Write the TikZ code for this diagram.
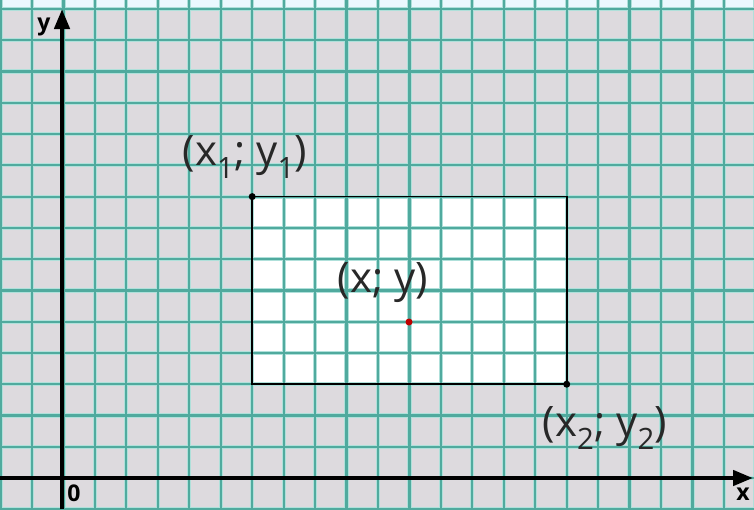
\documentclass[tikz,border=0pt]{standalone}
\usepackage{fontspec}
\setmainfont{Open Sans}
\usetikzlibrary{arrows.meta}
\definecolor{bgc}{RGB}{221,218,222}
\definecolor{gridc}{RGB}{80,170,158}
\definecolor{halo}{RGB}{175,224,218}
\definecolor{labc}{RGB}{40,40,40}
\tikzset{
  gridline/.style={draw=gridc, line width=2.2pt},
  halol/.style={draw=halo, line width=4.2pt},
  axis/.style={draw=black, line width=4.4pt, -{Triangle[length=20pt,width=15pt]}},
  ptdot/.style={circle, fill=black, inner sep=0pt, minimum size=7pt},
  reddot/.style={circle, fill=red!75!black, inner sep=0pt, minimum size=7pt},
  biglab/.style={text=labc, font=\fontsize{42}{44}\selectfont, inner sep=0pt},
  axlab/.style={text=black, font=\fontsize{23}{25}\selectfont\bfseries, inner sep=0pt}
}
\begin{document}
\begin{tikzpicture}[x=1pt,y=-1pt]
\useasboundingbox (0,0) rectangle (754,509);
\fill[bgc] (0,0) rectangle (754,509);
\fill[white!92!cyan] (0,0) rectangle (754,7);
% white rectangle
\coordinate (p1) at (252.2,196.6);
\coordinate (p2) at (566.7,384.2);
\fill[white] (p1) rectangle (p2);
% grid
\foreach \i in {-1,...,23} \draw[halol] ({32+31.45*\i},0) -- ++(0,509);
\foreach \j in {0,...,16} \draw[halol] (0,{9+31.27*\j}) -- ++(754,0);
\foreach \i in {-1,...,23} \draw[gridline] ({32+31.45*\i},0) -- ++(0,509);
\foreach \j in {0,...,16} \draw[gridline] (0,{9+31.27*\j}) -- ++(754,0);
% rectangle border
\draw[black, line width=1.6pt] (p1) rectangle (p2);
% axes
\coordinate (xs) at (0,478);
\coordinate (xe) at (753,478);
\coordinate (ys) at (62,509);
\coordinate (ye) at (62,9);
\draw[axis] (xs) -- (xe);
\draw[axis] (ys) -- (ye);
\node[axlab] (ylab) at (44,27) {y};
\node[axlab] (xlab) at (743,494) {x};
\node[axlab] (olab) at (74,493) {0};
% points
\node[ptdot] (d1) at (p1) {};
\node[ptdot] (d2) at (p2) {};
\node[reddot] (dc) at (409,322) {};
% labels
\node[biglab] (l1) at (245,157) {(x\textsubscript{1}; y\textsubscript{1})};
\node[biglab] (lc) at (383,283) {(x; y)};
\node[biglab] (l2) at (605,428) {(x\textsubscript{2}; y\textsubscript{2})};
\end{tikzpicture}
\end{document}
